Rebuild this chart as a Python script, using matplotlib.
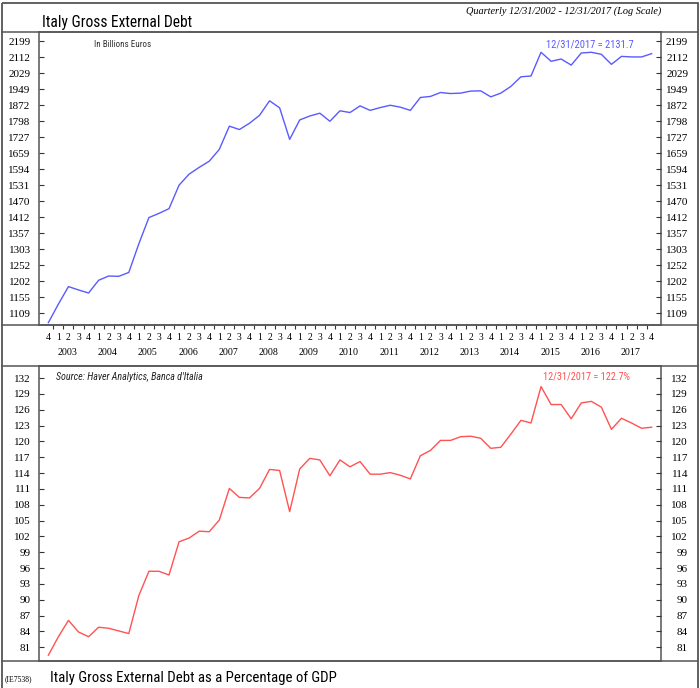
"""
Italy gross external debt, quarterly 2002Q4 - 2017Q4.
Top panel: level in billions of euros (log scale).
Bottom panel: as a percentage of GDP.
"""

import numpy as np
import matplotlib
matplotlib.use('Agg')
from matplotlib import pyplot as plt
from matplotlib import transforms
from matplotlib.patches import Rectangle
from matplotlib.ticker import NullLocator

# quarter labels along the x axis, first point is 2002 Q4
quarters = ['4'] + ['1', '2', '3', '4'] * 15
years = list(range(2003, 2018))

# gross external debt, billions of euros
debt = [1083, 1135, 1186, 1176, 1167, 1205, 1218, 1217, 1229, 1321,
        1411, 1426, 1443, 1531, 1574, 1601, 1626, 1675, 1776, 1761,
        1789, 1825, 1893, 1860, 1718, 1804, 1822, 1835, 1798, 1846,
        1838, 1869, 1848, 1861, 1872, 1863, 1848, 1909, 1914, 1933,
        1928, 1930, 1940, 1941, 1912, 1930, 1963, 2011, 2015, 2139,
        2091, 2103, 2071, 2135, 2139, 2128, 2075, 2117, 2114, 2114,
        2131.7]

# gross external debt as % of GDP
pct = [79.5, 83.0, 86.1, 83.9, 83.0, 84.8, 84.6, 84.1, 83.6, 90.8,
       95.4, 95.4, 94.7, 101.0, 101.7, 103.0, 102.9, 105.1, 111.1, 109.4,
       109.3, 111.1, 114.7, 114.5, 106.7, 114.8, 116.8, 116.5, 113.5, 116.5,
       115.2, 116.2, 113.8, 113.8, 114.1, 113.6, 112.9, 117.3, 118.3, 120.2,
       120.2, 120.9, 121.0, 120.6, 118.7, 118.9, 121.4, 124.0, 123.5, 130.4,
       127.0, 127.0, 124.3, 127.3, 127.6, 126.5, 122.3, 124.4, 123.5, 122.5,
       122.7]

debt_ticks = [2199, 2112, 2029, 1949, 1872, 1798, 1727, 1659, 1594, 1531,
              1470, 1412, 1357, 1303, 1252, 1202, 1155, 1109]
pct_ticks = [132, 129, 126, 123, 120, 117, 114, 111, 108, 105, 102, 99,
             96, 93, 90, 87, 84, 81]

W, H = 700, 688
SERIF = 'Liberation Serif'
NARROW = ['Roboto Condensed', 'Liberation Sans']
FRAME = '#555555'
BLUE = '#5a5aff'
RED = '#ff5252'

fig = plt.figure(figsize=(W / 100, H / 100), dpi=100)


def panel(top, bottom):
    """axes placed by pixel rows, between the two vertical dividers"""
    return fig.add_axes([39 / W, 1 - bottom / H, (661 - 39) / W,
                         (bottom - top) / H])


def style_y(ax, ticks, lims, log=False):
    tw = ax.twinx()
    for a in (ax, tw):
        if log:
            a.set_yscale('log')
        a.set_ylim(*lims)
        a.set_yticks(ticks)
        a.set_yticklabels([str(t) for t in ticks])
        a.yaxis.set_minor_locator(NullLocator())
        a.tick_params(axis='y', which='both', direction='in', length=3.5,
                      width=0.8, color='#333333', labelsize=8,
                      labelfontfamily=SERIF)
    ax.tick_params(axis='y', pad=6)
    tw.tick_params(axis='y', pad=19.5)
    for lab in tw.get_yticklabels():
        lab.set_horizontalalignment('right')
    for sp in tw.spines.values():
        sp.set_visible(False)
    for sp in ax.spines.values():
        sp.set_color(FRAME)
        sp.set_linewidth(1.1)
    return tw


x = np.arange(len(debt))
xlim = (-0.93, len(debt) - 1 + 0.93)

# top panel
ax1 = panel(32, 325)
ax1.plot(x, debt, color=BLUE, lw=1.0)
ax1.set_xlim(*xlim)
style_y(ax1, debt_ticks, (1076.7, 2251), log=True)
ax1.set_xticks(x)
ax1.set_xticklabels(quarters)
ax1.set_xticks(np.arange(0.5, len(debt) - 1, 1), minor=True)
ax1.tick_params(axis='x', which='major', length=0, pad=6, labelsize=7,
                labelfontfamily=SERIF)
ax1.tick_params(axis='x', which='minor', direction='out', length=3,
                width=0.8, color='#333333')

yr_trans = transforms.blended_transform_factory(ax1.transData, ax1.transAxes)
for i, yr in enumerate(years):
    ax1.text(4 * i + 2 - 0.1, (325 - 352) / (325 - 32), str(yr),
             transform=yr_trans, ha='center', va='center', fontsize=7.2,
             family=SERIF)

ax1.text(55 / 622, 1 - (44.5 - 32) / 293, 'In Billions Euros',
         transform=ax1.transAxes, ha='left', va='center', fontsize=6.5,
         family=NARROW, color='#333333')
ax1.text((634 - 39) / 622, 1 - (45 - 32) / 293,
         '12/31/2017 = {:.1f}'.format(debt[-1]), transform=ax1.transAxes,
         ha='right', va='center', fontsize=7.6, family=NARROW, color=BLUE)

# bottom panel
ax2 = panel(366, 661)
ax2.plot(x, pct, color=RED, lw=1.0)
ax2.set_xlim(*xlim)
ax2.set_xticks([])
style_y(ax2, pct_ticks, (78.4, 134.3))
ax2.text((55.7 - 39) / 622, 1 - (377 - 366) / 295,
         "Source: Haver Analytics, Banca d'Italia", transform=ax2.transAxes,
         ha='left', va='center', fontsize=7.2, family=NARROW,
         style='italic', color='#222222')
ax2.text((630 - 39) / 622, 1 - (377 - 366) / 295,
         '12/31/2017 = {:.1f}%'.format(pct[-1]), transform=ax2.transAxes,
         ha='right', va='center', fontsize=7.4, family=NARROW, color=RED)

# frame and titles, drawn in pixel coordinates
ov = fig.add_axes([0, 0, 1, 1], zorder=10)
ov.set_xlim(0, W)
ov.set_ylim(H, 0)
ov.axis('off')
ov.patch.set_alpha(0)
ov.add_patch(Rectangle((2, 3), W - 4, H + 5, fill=False, ec=FRAME, lw=1.3))
for yy in (32, 325, 366, 661):
    ov.plot([2, W - 2], [yy, yy], color=FRAME, lw=1.1)

ov.text(42, 27, 'Italy Gross External Debt', ha='left', va='baseline',
        fontsize=11.2, family=NARROW)
ov.text(661, 14, 'Quarterly 12/31/2002 - 12/31/2017 (Log Scale)',
        ha='right', va='baseline', fontsize=7.4, family=SERIF,
        style='italic')
ov.text(50, 682, 'Italy Gross External Debt as a Percentage of GDP',
        ha='left', va='baseline', fontsize=10.7, family=NARROW)
ov.text(5, 681, '(IE7538)', ha='left', va='baseline', fontsize=5.5,
        family=SERIF)

fig.savefig('out.png', dpi=100)
